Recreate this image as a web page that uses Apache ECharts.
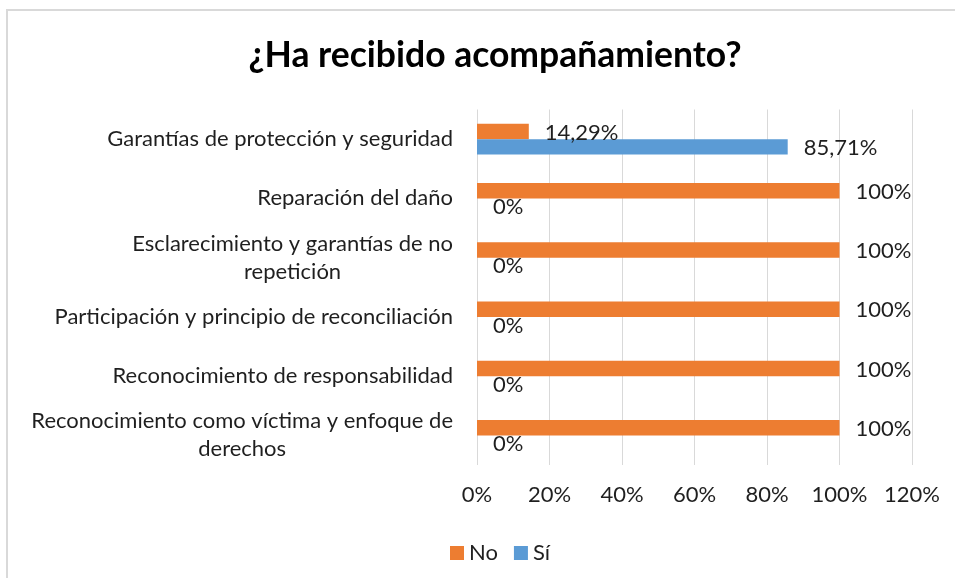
<!DOCTYPE html>
<html>
<head>
<meta charset="utf-8">
<script src="https://cdn.jsdelivr.net/npm/echarts@6/dist/echarts.min.js"></script>
<style>
html, body { margin: 0; padding: 0; background: #fff; }
#chart { width: 955px; height: 578px; }
</style>
</head>
<body>
<div id="chart"></div>
<script>
// categories, top to bottom
const categories = [
  "Garantías de protección y seguridad",
  "Reparación del daño",
  "Esclarecimiento y garantías de no\nrepetición",
  "Participación y principio de reconciliación",
  "Reconocimiento de responsabilidad",
  "Reconocimiento como víctima y enfoque de\nderechos",
];
const noValues = [14.29, 100, 100, 100, 100, 100];
const siValues = [85.71, 0, 0, 0, 0, 0];
const seriesNames = ["No", "Sí"];
const colorList = ["#ED7D31", "#5B9BD5"];

const FONT = "Lato, 'Noto Sans', sans-serif";
const TXT = "#1f1f1f";

const pct = (v) => String(v).replace(".", ",") + "%";

const myChart = echarts.init(document.getElementById("chart"));
myChart.setOption({
  animation: false,
  textStyle: { fontFamily: FONT },
  title: {
    text: "¿Ha recibido acompañamiento?",
    left: 490,
    textAlign: "center",
    top: 33,
    textStyle: { fontSize: 35.5, fontWeight: "bold", color: "#000", fontFamily: FONT },
  },
  graphic: [
    {
      type: "rect",
      shape: { x: 7, y: 10, width: 1000, height: 1000 },
      style: { fill: "none", stroke: "#D9D9D9", lineWidth: 2 },
      silent: true,
    },
  ],
  legend: {
    data: seriesNames,
    left: 445,
    top: 537,
    icon: "rect",
    itemWidth: 14,
    itemHeight: 14,
    itemGap: 16,
    itemStyle: { borderWidth: 0 },
    textStyle: { fontSize: 22, color: TXT, fontFamily: FONT },
  },
  grid: {
    left: 477,
    right: 43,
    top: 109.5,
    bottom: 113,
  },
  xAxis: {
    type: "value",
    min: 0,
    max: 120,
    interval: 20,
    axisLine: { show: false },
    axisTick: { show: false },
    axisLabel: {
      formatter: "{value}%",
      fontSize: 22,
      color: TXT,
      margin: 19,
    },
    splitLine: { lineStyle: { color: "#D9D9D9", width: 1 } },
  },
  yAxis: {
    type: "category",
    inverse: true,
    data: categories,
    axisLine: { show: false },
    axisTick: { show: false },
    axisLabel: {
      margin: 24,
      color: TXT,
      fontSize: 22,
      lineHeight: 28,
      formatter: (v) => v.split("\n").map((l) => "{c|" + l + "}").join("\n"),
      rich: {
        c: { align: "center", fontSize: 22, lineHeight: 28, color: TXT, fontFamily: FONT },
      },
    },
  },
  series: [noValues, siValues].map((data, index) => ({
    type: "bar",
    name: seriesNames[index],
    data: data,
    barGap: "0%",
    barCategoryGap: "48%",
    itemStyle: { color: colorList[index] },
    label: {
      show: true,
      position: "right",
      distance: 16,
      offset: [0, 1],
      fontSize: 22,
      color: TXT,
      formatter: (p) => pct(p.value),
    },
  })),
});
</script>
</body>
</html>
